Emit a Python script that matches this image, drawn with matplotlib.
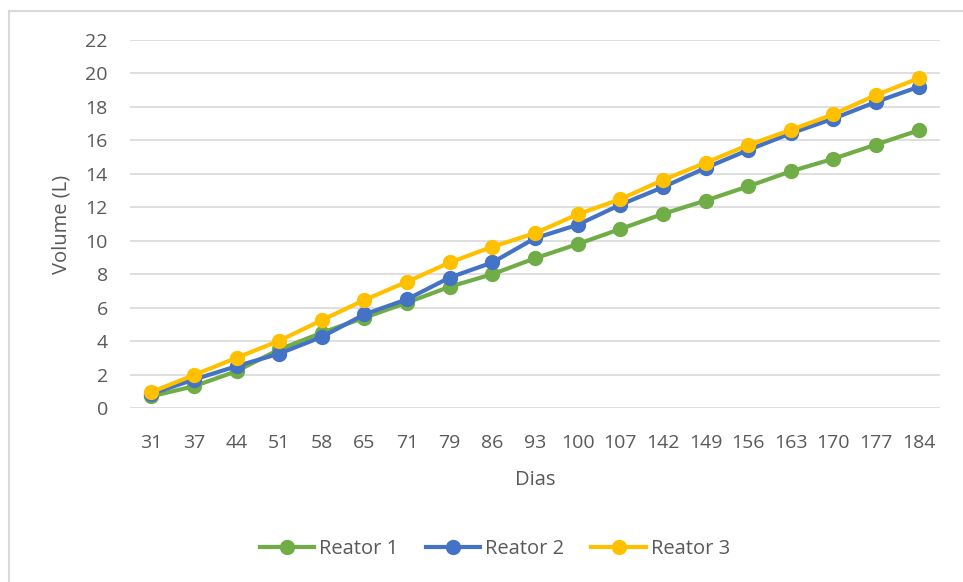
import matplotlib
matplotlib.use("Agg")
import matplotlib.pyplot as plt
from matplotlib.lines import Line2D

dias = ["31", "37", "44", "51", "58", "65", "71", "79", "86", "93", "100",
        "107", "142", "149", "156", "163", "170", "177", "184"]
reator1 = [0.7, 1.3, 2.2, 3.5, 4.5, 5.4, 6.3, 7.25, 8.0, 8.95, 9.8,
           10.7, 11.6, 12.4, 13.25, 14.15, 14.9, 15.75, 16.6]
reator2 = [0.85, 1.7, 2.5, 3.25, 4.25, 5.6, 6.5, 7.8, 8.7, 10.15, 10.95,
           12.15, 13.2, 14.35, 15.42, 16.42, 17.3, 18.3, 19.2]
reator3 = [0.95, 1.97, 3.0, 4.02, 5.25, 6.46, 7.55, 8.7, 9.64, 10.45, 11.58,
           12.48, 13.63, 14.66, 15.72, 16.62, 17.56, 18.71, 19.71]
series_names = ["Reator 1", "Reator 2", "Reator 3"]
colors = ["#70AD47", "#4472C4", "#FFC000"]
yticks = list(range(0, 23, 2))

plt.rcParams['font.family'] = ['Open Sans', 'DejaVu Sans']
text_color = "#595959"

fig = plt.figure(figsize=(9.63, 5.82), dpi=100)
ax = fig.add_axes([130/963, 174/582, 810/963, 368/582])

x = list(range(len(dias)))
for vals, name, c in zip([reator1, reator2, reator3], series_names, colors):
    ax.plot(x, vals, color=c, lw=3.0, marker='o', markersize=10,
            markeredgecolor=c, markerfacecolor=c, label=name, solid_capstyle='round',
            zorder=3)

ax.set_xlim(-0.5, len(dias) - 0.5)
ax.set_ylim(0, 22)
ax.set_yticks(yticks)
ax.set_xticks(x)
ax.set_xticklabels(dias)
ax.yaxis.grid(True, color="#D9D9D9", lw=1.2)
ax.set_axisbelow(True)
for s in ax.spines.values():
    s.set_visible(False)
ax.tick_params(axis='both', length=0, colors=text_color, labelsize=14)
ax.tick_params(axis='x', pad=19)
ax.tick_params(axis='y', pad=16)
ax.set_xlabel("Dias", color=text_color, fontsize=14.5, labelpad=13)
ax.set_ylabel("Volume (L)", color=text_color, fontsize=14.5, labelpad=10)

handles = [Line2D([0], [0], color=c, lw=3.0, marker='o', markersize=10) for c in colors]
fig.legend(handles, series_names, loc='center', bbox_to_anchor=(495/963, 1 - 549/582),
           ncol=3, frameon=False, fontsize=14.5, labelcolor=text_color,
           handlelength=2.7, handletextpad=0.25, columnspacing=1.35)

# chart border (left and top)
fig.add_artist(Line2D([9/963, 9/963], [0, 1 - 11/582], color="#D9D9D9", lw=1.5,
                      transform=fig.transFigure))
fig.add_artist(Line2D([9/963, 1], [1 - 11/582, 1 - 11/582], color="#D9D9D9", lw=1.5,
                      transform=fig.transFigure))

fig.savefig("out.png", dpi=100, facecolor="white")
